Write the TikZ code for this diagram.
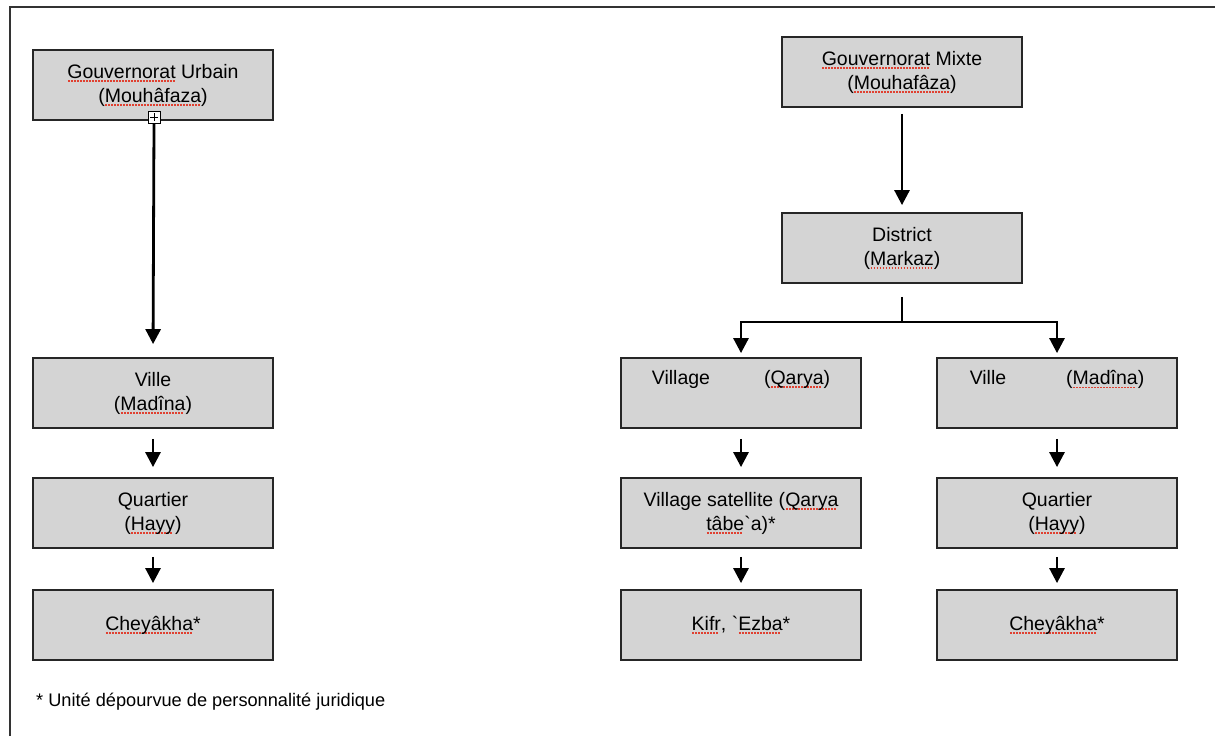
\documentclass[tikz,border=0pt]{standalone}
\usepackage{fontspec}
\setmainfont{Liberation Sans}
\newfontfamily\rawfont{Liberation Sans}
\usetikzlibrary{arrows.meta}
\definecolor{boxgray}{HTML}{D4D4D4}
\definecolor{framegray}{HTML}{333333}
\definecolor{spellred}{HTML}{E04030}
\newcommand\spk[1]{\setbox0=\hbox{#1}\rlap{\raisebox{-3.5pt}{\textcolor{spellred}{\leaders\hbox to 3pt{\hss\vrule width 1.8pt height 1.5pt\hss}\hskip\wd0}}}\box0\relax}
\newcommand\bq{{\rawfont\symbol{96}}}
\tikzset{
  box/.style={draw=black!85, fill=boxgray, line width=1.8pt, minimum width=240pt, minimum height=70pt,
    inner sep=0pt, align=center, font=\fontsize{19.5}{24}\selectfont},
  arr/.style={line width=2.8pt, -{Triangle[width=15pt,length=15pt]}},
  link/.style={line width=2.8pt},
}
\begin{document}
\begin{tikzpicture}[x=1pt,y=-1pt]
\useasboundingbox (0,0) rectangle (1215,736);
% page frame (cropped)
\draw[framegray, line width=1.8pt] (10,736) -- (10,7) -- (1215,7);

% left column
\node[box] (gu) at (153,85) {\spk{Gouvernorat} Urbain\\(\spk{Mouhâfaza})};
\node[box] (uville) at (153,393) {Ville\\(\spk{Madîna})};
\node[box] (uquart) at (153,513) {Quartier\\(\spk{Hayy})};
\node[box] (uchey) at (153,625) {\spk{Cheyâkha}*};
\node[draw=black, fill=white, line width=1pt, minimum size=12pt, inner sep=0pt] (plus) at (154,117) {};
\draw[line width=1pt] ([xshift=-4pt]plus.center) -- ([xshift=4pt]plus.center);
\draw[line width=1pt] ([yshift=-4pt]plus.center) -- ([yshift=4pt]plus.center);

\draw[arr, shorten >=13pt] (plus.south) -- (uville.north);
\draw[arr, shorten <=10pt, shorten >=10pt] (uville.south) -- (uquart.north);
\draw[arr, shorten <=8pt, shorten >=6pt] (uquart.south) -- (uchey.north);

% right part
\node[box] (gm) at (902,72) {\spk{Gouvernorat} Mixte\\(\spk{Mouhafâza})};
\node[box] (dist) at (902,248) {District\\(\spk{Markaz})};
\node[box] (vilg) at (741,393) {Village\hspace{54pt}(\spk{Qarya})\\\strut};
\node[box] (rville) at (1057,393) {Ville\hspace{60pt}(\spk{Madîna})\\\strut};
\node[box] (sat) at (741,513) {Village satellite (\spk{Qarya}\\\spk{tâbe}\bq a)*};
\node[box] (rquart) at (1057,513) {Quartier\\(\spk{Hayy})};
\node[box] (kifr) at (741,625) {\spk{Kifr}, \bq\spk{Ezba}*};
\node[box] (rchey) at (1057,625) {\spk{Cheyâkha}*};

\coordinate (br) at (902,322);
\draw[arr, shorten <=6pt, shorten >=7pt] (gm.south) -- (dist.north);
\draw[link, shorten <=13pt] (dist.south) -- (br);
\draw[arr, shorten >=4pt] (br) -| (vilg.north);
\draw[arr, shorten >=4pt] (br) -| (rville.north);
\draw[arr, shorten <=10pt, shorten >=10pt] (vilg.south) -- (sat.north);
\draw[arr, shorten <=8pt, shorten >=6pt] (sat.south) -- (kifr.north);
\draw[arr, shorten <=10pt, shorten >=10pt] (rville.south) -- (rquart.north);
\draw[arr, shorten <=8pt, shorten >=6pt] (rquart.south) -- (rchey.north);

% footnote
\node[anchor=west, inner sep=0pt, font=\fontsize{18.2}{21}\selectfont] (note) at (36,702) {* Unité dépourvue de personnalité juridique};
\end{tikzpicture}
\end{document}
